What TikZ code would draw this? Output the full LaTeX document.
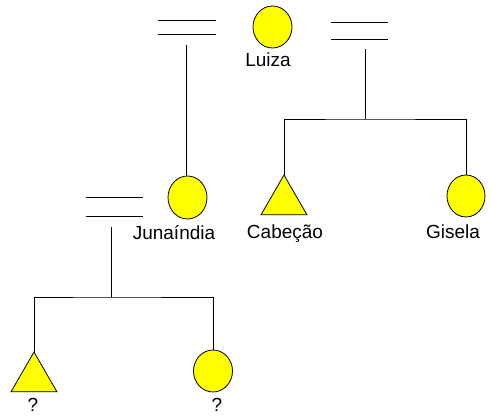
\documentclass[tikz,border=0pt]{standalone}
\usepackage{fontspec}
\setmainfont{Liberation Sans}
\usetikzlibrary{shapes.geometric}
\definecolor{pedyellow}{RGB}{255,255,0}
\tikzset{
  line/.style={draw=black, line width=0.8pt},
  female/.style={ellipse, draw=black, line width=0.8pt, fill=pedyellow, inner sep=0pt, outer sep=0pt, minimum width=39pt, minimum height=42pt},
  male/.style={regular polygon, regular polygon sides=3, draw=black, line width=0.8pt, fill=pedyellow, inner sep=0pt, outer sep=0pt, minimum size=53pt},
  marriage/.style={draw=none, inner sep=0pt, outer sep=0pt},
  pname/.style={font=\fontsize{19pt}{22pt}\selectfont, anchor=base, inner sep=0pt}
}
\begin{document}
\begin{tikzpicture}[x=1pt,y=-1pt]
\useasboundingbox (0,0) rectangle (491,418);
% individuals
\node[female] (luiza) at (272.5,27) {};
\node[female, minimum height=43pt] (jun) at (187.5,197.5) {};
\node[male] (cab) at (284,201.5) {};
\node[female, minimum width=38pt] (gis) at (466,196) {};
\node[male] (q1) at (34,378.5) {};
\node[female] (q2) at (213,371) {};
% names
\node[pname] (tluiza) at (268,66) {Luiza};
\node[pname] (tjun) at (174,239) {Junaíndia};
\node[pname] (tcab) at (285,238) {Cabeção};
\node[pname] (tgis) at (453,238) {Gisela};
\node[pname] (tq1) at (33,411) {?};
\node[pname] (tq2) at (217,411) {?};
% marriage symbols
\node[marriage, minimum width=58pt, minimum height=14.5pt] (m1) at (187,27.5) {};
\node[marriage, minimum width=57pt, minimum height=17.5pt] (m2) at (359.5,31) {};
\node[marriage, minimum width=57pt, minimum height=19pt] (m3) at (114.5,206.5) {};
\foreach \m in {m1,m2,m3}{
  \draw[line] (\m.north west) -- (\m.north east);
  \draw[line] (\m.south west) -- (\m.south east);
}
% descent lines
\coordinate (d1) at (186,45);
\coordinate (d2) at (365.5,49);
\coordinate (b2) at (365.5,119);
\coordinate (d3) at (111,227);
\coordinate (b3) at (111,297);
\draw[line] (d1) -- (d1 |- jun.north);
\draw[line] (d2) -- (b2);
\draw[line] (cab.north) |- (b2) -| (gis.north);
\draw[line] (d3) -- (b3);
\draw[line] (q1.north) |- (b3) -| (q2.north);
\end{tikzpicture}
\end{document}
